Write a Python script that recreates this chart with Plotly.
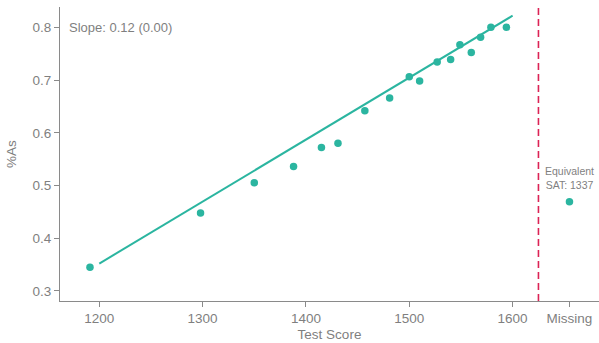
import numpy as np
import plotly.graph_objects as go

# Test score bins and share of A grades in each
scores = [1191, 1298, 1350, 1388, 1415, 1431, 1457, 1481, 1500, 1510,
          1527, 1540, 1549, 1560, 1569, 1579, 1594]
pct_as = [0.345, 0.448, 0.505, 0.536, 0.572, 0.580, 0.642, 0.666, 0.706, 0.698,
          0.734, 0.739, 0.767, 0.752, 0.781, 0.800, 0.800]

# Students with no test score reported
missing_x = 1655
missing_pct = 0.469
equivalent_sat = 1337
cutoff_x = 1625

# Fitted line (share of As per test point) and its intercept
fit_slope = 0.001175
fit_intercept = -1.058
fit_range = [1200, 1600]

tick_vals = [1200, 1300, 1400, 1500, 1600, missing_x]
tick_text = ["1200", "1300", "1400", "1500", "1600", "Missing"]

teal = "#2BB5A0"
grey = "#7f7f7f"
font = "Liberation Sans, Arial, sans-serif"

fit_x = np.array(fit_range)
fit_y = fit_intercept + fit_slope * fit_x

fig = go.Figure()
fig.add_trace(go.Scatter(x=fit_x, y=fit_y, mode="lines",
                         line=dict(color=teal, width=2), hoverinfo="skip"))
fig.add_trace(go.Scatter(x=scores, y=pct_as, mode="markers",
                         marker=dict(color=teal, size=7.5)))
fig.add_trace(go.Scatter(x=[missing_x], y=[missing_pct], mode="markers",
                         marker=dict(color=teal, size=7.5)))

fig.add_shape(type="line", x0=cutoff_x, x1=cutoff_x, y0=0, y1=1,
              xref="x", yref="paper",
              line=dict(color="#DC2355", width=1.6, dash="7px,4px"))

fig.add_annotation(x=0, y=0.8, xref="paper", yref="y", xanchor="left",
                   xshift=7, showarrow=False,
                   text=f"Slope: {fit_slope*100:.2f} (0.00)",
                   font=dict(family=font, size=13, color=grey))
fig.add_annotation(x=missing_x, y=missing_pct, xref="x", yref="y",
                   yshift=24, showarrow=False, align="center",
                   text=f"Equivalent<br>SAT: {equivalent_sat}",
                   font=dict(family=font, size=10.5, color=grey))

axis_common = dict(showline=True, linecolor="#8a8a8a", linewidth=1.2,
                   ticks="outside", ticklen=5, tickcolor="#8a8a8a",
                   showgrid=False, zeroline=False,
                   tickfont=dict(family=font, size=13.5, color=grey),
                   title_font=dict(family=font, size=13.5, color=grey))

fig.update_layout(
    width=599, height=343,
    margin=dict(l=60, r=0, t=7, b=42),
    paper_bgcolor="white", plot_bgcolor="white",
    showlegend=False,
    xaxis=dict(range=[1162, 1683.6], tickvals=tick_vals, ticktext=tick_text,
               title=dict(text="Test Score", standoff=4), **axis_common),
    yaxis=dict(range=[0.281, 0.8385], tickvals=[0.3, 0.4, 0.5, 0.6, 0.7, 0.8],
               title=dict(text="%As", standoff=12), **axis_common),
)

fig.write_html("out.html")
